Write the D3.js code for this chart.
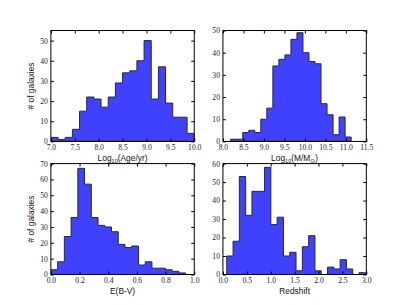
<!DOCTYPE html>
<html>
<head>
<meta charset="utf-8">
<script src="https://cdn.jsdelivr.net/npm/d3@7"></script>
<style>
  body { margin: 0; background: #fff; }
  .tick text { font-family: "Liberation Serif", "DejaVu Serif", serif; font-size: 7.6px; fill: #222; }
  .lbl { font-family: "Liberation Sans", Arial, sans-serif; font-size: 8.4px; fill: #111; }
</style>
</head>
<body>
<div id="chart"></div>
<script>
// counts, one per bin
var ageCounts = [2, 1, 2, 6, 15, 22, 21, 17, 22, 29, 34, 35, 40, 50, 21, 37, 19, 12, 12, 4];
var massCounts = [1, 1, 4, 5, 4, 10, 15, 34, 37, 39, 46, 49, 40, 36, 35, 17, 12, 3, 11, 2];
var ebvCounts = [3, 8, 24, 36, 67, 57, 36, 31, 30, 27, 19, 17, 18, 6, 8, 4, 4, 3, 2, 1];
var zCounts = [10, 18, 53, 32, 45, 45, 58, 27, 31, 10, 12, 2, 15, 21, 2, 0, 4, 3, 8, 3, 0, 1];

// bin ranges (first and last edge)
var ageRange = [7.0, 10.0];
var massRange = [8.19, 11.13];
var ebvRange = [0.0, 0.94];
var zRange = [0.08, 2.98];

// axis ticks
var ageXTicks = [7.0, 7.5, 8.0, 8.5, 9.0, 9.5, 10.0];
var massXTicks = [8.0, 8.5, 9.0, 9.5, 10.0, 10.5, 11.0, 11.5];
var ebvXTicks = [0.0, 0.2, 0.4, 0.6, 0.8, 1.0];
var zXTicks = [0.0, 0.5, 1.0, 1.5, 2.0, 2.5, 3.0];
var ageYTicks = [0, 10, 20, 30, 40, 50];
var massYTicks = [0, 10, 20, 30, 40, 50];
var ebvYTicks = [0, 10, 20, 30, 40, 50, 60, 70];
var zYTicks = [0, 10, 20, 30, 40, 50, 60];

(function(){
  var W = 407, H = 305;
  var mLeft = 0.125 * W, mRight = 0.9 * W, mTop = 0.1 * H, mBottom = 0.9 * H;
  var pw = (mRight - mLeft) / 2.2, ph = (mBottom - mTop) / 2.2;

  var svg = d3.select('#chart').append('svg')
      .attr('width', W)
      .attr('height', H);

  var panels = [
    { counts: ageCounts, range: ageRange, xdom: [7, 10], ydom: [0, 55], xt: ageXTicks, yt: ageYTicks,
      xlabel: ['Log', '10', '(Age/yr)'], ylabel: true, col: 0, row: 0 },
    { counts: massCounts, range: massRange, xdom: [8, 11.5], ydom: [0, 50], xt: massXTicks, yt: massYTicks,
      xlabel: ['Log', '10', '(M/M', '\u2299', ')'], ylabel: false, col: 1, row: 0 },
    { counts: ebvCounts, range: ebvRange, xdom: [0, 1], ydom: [0, 70], xt: ebvXTicks, yt: ebvYTicks,
      xlabel: ['E(B-V)'], ylabel: true, col: 0, row: 1 },
    { counts: zCounts, range: zRange, xdom: [0, 3], ydom: [0, 60], xt: zXTicks, yt: zYTicks,
      xlabel: ['Redshift'], ylabel: false, col: 1, row: 1 }
  ];

  panels.forEach(function(p, k) {
    var x0 = mLeft + p.col * pw * 1.2,
        y0 = mTop + p.row * ph * 1.2;

    var g = svg.append('g')
        .attr('transform', 'translate(' + x0 + ',' + y0 + ')');

    var x = d3.scaleLinear().domain(p.xdom).range([0, pw]);
    var y = d3.scaleLinear().domain(p.ydom).range([ph, 0]);

    g.append('clipPath').attr('id', 'clip' + k)
      .append('rect').attr('width', pw).attr('height', ph);

    // step histogram points
    var n = p.counts.length,
        bw = (p.range[1] - p.range[0]) / n;
    var pts = p.counts.map(function(c, i) { return [p.range[0] + i * bw, c]; });
    pts.push([p.range[1], p.counts[n - 1]]);

    var area = d3.area()
        .curve(d3.curveStepAfter)
        .x(function(d) { return x(d[0]); })
        .y0(y(0))
        .y1(function(d) { return y(d[1]); });

    g.append('path')
        .attr('clip-path', 'url(#clip' + k + ')')
        .attr('d', area(pts))
        .attr('fill', '#4040ff')
        .attr('stroke', '#2a2a2a')
        .attr('stroke-width', 1);

    var fmtX = d3.format('.1f');

    g.append('g')
        .attr('transform', 'translate(0,' + ph + ')')
        .call(d3.axisBottom(x).tickValues(p.xt).tickFormat(fmtX)
          .tickSizeInner(-3).tickSizeOuter(0).tickPadding(3));
    g.append('g')
        .call(d3.axisTop(x).tickValues(p.xt).tickFormat('')
          .tickSizeInner(-3).tickSizeOuter(0));
    g.append('g')
        .call(d3.axisLeft(y).tickValues(p.yt).tickFormat(d3.format('d'))
          .tickSizeInner(-3).tickSizeOuter(0).tickPadding(3));
    g.append('g')
        .attr('transform', 'translate(' + pw + ',0)')
        .call(d3.axisRight(y).tickValues(p.yt).tickFormat('')
          .tickSizeInner(-3).tickSizeOuter(0));

    g.selectAll('.domain').remove();
    g.selectAll('.tick line').attr('stroke', '#000');
    g.selectAll('.tick text').attr('font-family', null).attr('font-size', null);

    g.append('rect')
        .attr('width', pw)
        .attr('height', ph)
        .attr('fill', 'none')
        .attr('stroke', '#000')
        .attr('stroke-width', 1);

    // x label with subscripts
    var t = g.append('text')
        .attr('class', 'lbl')
        .attr('x', pw / 2)
        .attr('y', ph + 20)
        .attr('text-anchor', 'middle');
    p.xlabel.forEach(function(s, i) {
      var sp = t.append('tspan').text(s);
      if (i % 2 == 1) {
        sp.attr('font-size', '5.5px').attr('dy', 1.5);
      } else if (i > 0) {
        sp.attr('dy', -1.5);
      }
    });

    if (p.ylabel) {
      g.append('text')
          .attr('class', 'lbl')
          .attr('transform', 'translate(-17,' + (ph / 2) + ') rotate(-90)')
          .attr('text-anchor', 'middle')
          .text('# of galaxies');
    }
  });
})();
</script>
</body>
</html>
